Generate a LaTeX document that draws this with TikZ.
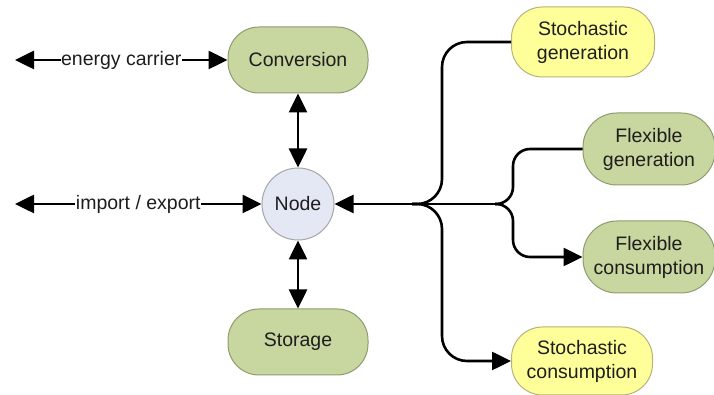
\documentclass[tikz,border=0pt]{standalone}
\usepackage{fontspec}
\setmainfont{Liberation Sans}
\usetikzlibrary{arrows.meta,calc}
\definecolor{gfill}{HTML}{C8D6A0}
\definecolor{gdraw}{HTML}{8E9C70}
\definecolor{yfill}{HTML}{FFFF99}
\definecolor{ydraw}{HTML}{B8B27A}
\definecolor{nfill}{HTML}{E4E8F4}
\definecolor{ndraw}{HTML}{A6A6A6}
\definecolor{txt}{HTML}{1E1E1E}
\tikzset{
  pill/.style={draw=#1, line width=1pt, rectangle, rounded corners=31pt, align=center, text=txt, font=\fontsize{19.5}{24}\selectfont, inner sep=2pt},
  greenpill/.style={pill=gdraw, fill=gfill},
  yellowpill/.style={pill=ydraw, fill=yfill},
  conn/.style={line width=2.6pt, black},
  tipend/.style={-{Triangle[length=19pt,width=18pt]}},
  tipboth/.style={{Triangle[length=19pt,width=18pt]}-{Triangle[length=19pt,width=18pt]}},
  lbl/.style={fill=white, inner sep=0.5pt, text=txt, font=\fontsize{19.5}{24}\selectfont},
}
\begin{document}
\begin{tikzpicture}[x=1pt,y=1pt]
\useasboundingbox (0,0) rectangle (714,395);
\node[greenpill, minimum width=140pt, minimum height=66pt] (conv) at (298,335) {Conversion};
\node[circle, draw=ndraw, line width=1pt, fill=nfill, minimum size=72pt, inner sep=0pt, text=txt, font=\fontsize{19.5}{24}\selectfont] (node) at (298,191) {Node};
\node[greenpill, minimum width=140pt, minimum height=66pt] (stor) at (298,53) {Storage};
\node[yellowpill, minimum width=143pt, minimum height=70pt] (sg) at (583,353) {Stochastic\\generation};
\node[greenpill, minimum width=132pt, minimum height=72pt, rounded corners=34pt] (fg) at (649,246) {Flexible\\generation};
\node[greenpill, minimum width=132pt, minimum height=72pt, rounded corners=34pt] (fc) at (649,138) {Flexible\\consumption};
\node[yellowpill, minimum width=141pt, minimum height=68pt] (sc) at (582,34) {Stochastic\\consumption};
\coordinate (ec) at (15,335);
\coordinate (ie) at (15,191);
\coordinate (k) at (412,191);
\coordinate (j) at (495,191);
\draw[conn, tipboth] (ec) -- node[lbl] {energy carrier} (conv.west);
\draw[conn, tipboth] (ie) -- node[lbl] {import / export} (node.west);
\draw[conn, tipboth] (conv.south) -- (node.north);
\draw[conn, tipboth] (node.south) -- (stor.north);
\draw[conn, tipend] (j) -- (node.east);
\draw[conn, rounded corners=25pt] (k) -| (442,353) -- (sg.west);
\draw[conn, tipend, rounded corners=25pt] (k) -| (442,34) -- (sc.west);
\draw[conn, rounded corners=17pt] (j) -| (513,246) -- (fg.west);
\draw[conn, tipend, rounded corners=17pt] (j) -| (513,138) -- (fc.west);
\end{tikzpicture}
\end{document}
